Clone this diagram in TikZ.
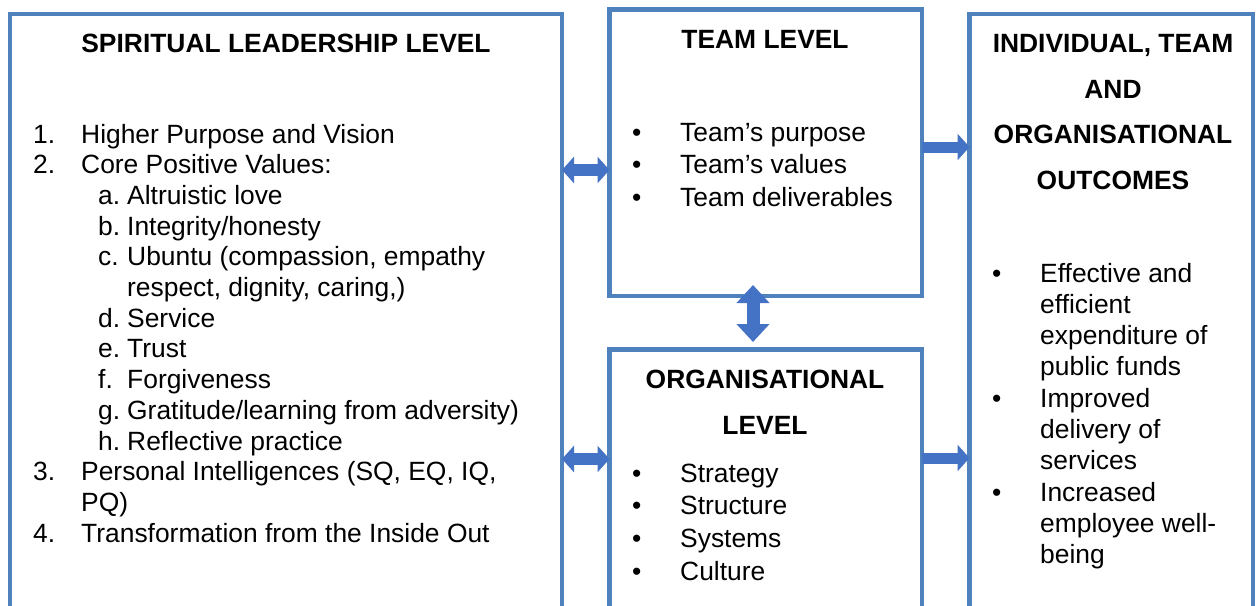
\documentclass[tikz,border=0pt]{standalone}
\usepackage{fontspec}
\setmainfont{Liberation Sans}
\usetikzlibrary{arrows.meta}
\definecolor{boxblue}{RGB}{79,129,189}
\definecolor{arrowblue}{RGB}{68,114,196}
\newcommand{\bodysize}{\fontsize{26.4}{30}\selectfont}

\begin{document}
\begin{tikzpicture}[x=1pt,y=-1pt,
  level_box/.style={draw=boxblue,line width=4.3pt,outer sep=0pt,inner sep=0pt,anchor=north west},
  head_text/.style={font=\bodysize\bfseries,anchor=base,inner sep=0pt},
  item_text/.style={font=\bodysize,anchor=base west,inner sep=0pt},
  both_arrow/.style={draw=arrowblue,line width=12pt,{Triangle[length=12pt,width=26pt]}-{Triangle[length=12pt,width=26pt]}},
  one_arrow/.style={draw=arrowblue,line width=11pt,-{Triangle[length=12pt,width=26pt]}}]

    \useasboundingbox (0,0) rectangle (1257,605);
    \clip (0,0) rectangle (1257,605);

    % the four level boxes
    \node[level_box, minimum width=552pt, minimum height=700pt] (spiritual) at (10,14) {};
    \node[level_box, minimum width=312.5pt, minimum height=286.5pt] (team) at (609.5,9.5) {};
    \node[level_box, minimum width=312.5pt, minimum height=400pt] (org) at (609.5,349.5) {};
    \node[level_box, minimum width=283.5pt, minimum height=700pt] (outcomes) at (969.5,14) {};

    % headings
    \node[head_text] (spiritual_head) at (286,52) {SPIRITUAL LEADERSHIP LEVEL};
    \node[head_text] (team_head) at (765,48) {TEAM LEVEL};
    \node[head_text] (org_head1) at (765,388) {ORGANISATIONAL};
    \node[head_text] (org_head2) at (765,434) {LEVEL};
    \node[head_text] (out_head1) at (1113,52) {INDIVIDUAL, TEAM};
    \node[head_text] (out_head2) at (1113,98) {AND};
    \node[head_text] (out_head3) at (1113,143) {ORGANISATIONAL};
    \node[head_text] (out_head4) at (1113,189) {OUTCOMES};

    % spiritual leadership list
    \foreach \nx/\num/\tx/\txt [count=\i from 0] in {
        33/{1.}/81/{Higher Purpose and Vision},
        33/{2.}/81/{Core Positive Values:},
        98/{a.}/127/{Altruistic love},
        98/{b.}/127/{Integrity/honesty},
        98/{c.}/127/{Ubuntu (compassion, empathy},
        98/{}/127/{respect, dignity, caring,)},
        98/{d.}/127/{Service},
        98/{e.}/127/{Trust},
        98/{f.}/127/{Forgiveness},
        98/{g.}/127/{Gratitude/learning from adversity)},
        98/{h.}/127/{Reflective practice},
        33/{3.}/81/{Personal Intelligences (SQ, EQ, IQ,},
        33/{}/81/{PQ)},
        33/{4.}/81/{Transformation from the Inside Out}}{
        \node[item_text] (snum\i) at (\nx,143+30.7*\i) {\num};
        \node[item_text] (sitem\i) at (\tx,143+30.7*\i) {\txt};
    }

    % team list
    \foreach \txt [count=\i from 0] in {Team’s purpose, Team’s values, Team deliverables}{
        \node[item_text] (tbul\i) at (632,141+32.5*\i) {•};
        \node[item_text] (titem\i) at (680,141+32.5*\i) {\txt};
    }

    % organisational list
    \foreach \txt [count=\i from 0] in {Strategy, Structure, Systems, Culture}{
        \node[item_text] (obul\i) at (632,482+32.7*\i) {•};
        \node[item_text] (oitem\i) at (680,482+32.7*\i) {\txt};
    }

    % outcomes list
    \foreach \bul/\txt [count=\i from 0] in {
        •/{Effective and}, {}/{efficient}, {}/{expenditure of}, {}/{public funds},
        •/{Improved}, {}/{delivery of}, {}/{services},
        •/{Increased}, {}/{employee well-}, {}/{being}}{
        \node[item_text] (rbul\i) at (992,282+31.3*\i) {\bul};
        \node[item_text] (ritem\i) at (1040,282+31.3*\i) {\txt};
    }

    % arrows between the levels
    \draw[both_arrow] (spiritual.east |- 0,170) -- (team.west |- 0,170);
    \draw[both_arrow] (spiritual.east |- 0,459) -- (org.west |- 0,459);
    \draw[both_arrow, line width=13pt, {Triangle[length=18pt,width=32pt]}-{Triangle[length=18pt,width=32pt]},
          shorten <=-11pt, shorten >=7.5pt] (team.south -| 753,0) -- (org.north -| 753,0);
    \draw[one_arrow] (team.east |- 0,147) -- (outcomes.west |- 0,147);
    \draw[one_arrow] (org.east |- 0,458) -- (outcomes.west |- 0,458);
\end{tikzpicture}
\end{document}
